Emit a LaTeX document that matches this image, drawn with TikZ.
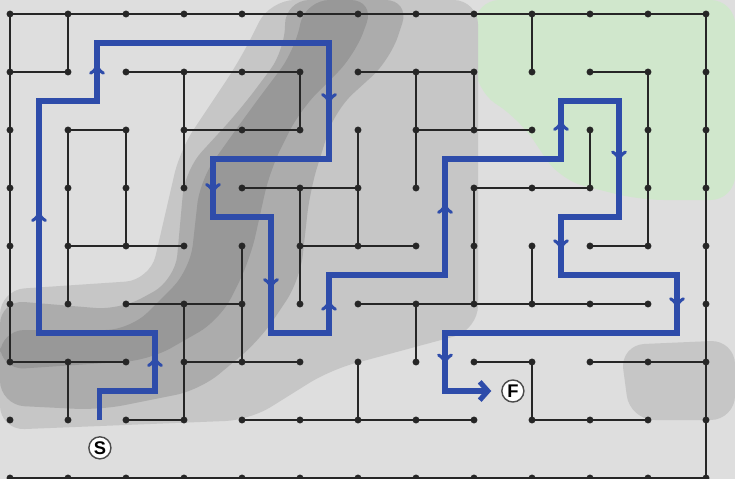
\documentclass[tikz,border=0pt]{standalone}
\usepackage{fontspec}
\setsansfont{Liberation Sans}
\usetikzlibrary{arrows.meta}

\definecolor{routeblue}{RGB}{46,76,170}
\definecolor{bglight}{RGB}{222,222,222}
\definecolor{bgmid}{RGB}{198,198,198}
\definecolor{bgdark}{RGB}{172,172,172}
\definecolor{bgcore}{RGB}{152,152,152}
\definecolor{bggreen}{RGB}{208,231,204}

\begin{document}
\begin{tikzpicture}[
        wall/.style={line width=1.1pt, black!85, line cap=round},
        route/.style={line width=2.5pt, routeblue},
        chevron/.style={line width=1.5pt, routeblue, line cap=round},
        endpt/.style={circle, draw=black!70, line width=0.7pt, fill=white,
                      minimum size=0.38cm, inner sep=0pt,
                      font=\sffamily\bfseries\fontsize{9}{9}\selectfont},
        chev/.pic={\draw[chevron] (-0.11,-0.09) .. controls (-0.05,-0.05) .. (0,0.03)
                   .. controls (0.05,-0.05) .. (0.11,-0.09);}
    ]
        \useasboundingbox (-0.1724,-8.0172) rectangle (12.5,0.2414);
        % background, in pixels of the picture
        \begin{scope}[shift={(-0.1724,0.2414)}, x=0.017241cm, y=-0.017241cm]
            \fill[bglight] (0,0) rectangle (735,479);
            \fill[bggreen, rounded corners=12pt] (475,0) -- (735,0) -- (735,200)
                -- (640,200) -- (560,180) -- (520,120) -- (475,90) -- cycle;
            \fill[bgmid, rounded corners=12pt] (270,0) -- (478,0) -- (478,330)
                -- (330,370) -- (250,420) -- (0,430) -- (0,290) -- (150,280)
                -- (180,150) -- (240,60) -- cycle;
            \fill[bgdark, rounded corners=12pt] (285,0) -- (410,0) -- (390,60)
                -- (335,110) -- (310,190) -- (300,280) -- (260,340) -- (200,390)
                -- (100,410) -- (0,405) -- (0,300) -- (120,310) -- (175,280)
                -- (185,170) -- (240,110) -- (285,50) -- cycle;
            \fill[bgcore, rounded corners=12pt] (305,0) -- (375,0) -- (355,55)
                -- (300,110) -- (270,170) -- (250,260) -- (220,320) -- (150,360)
                -- (0,370) -- (0,330) -- (130,330) -- (190,270) -- (200,180)
                -- (250,110) -- (295,50) -- cycle;
            \fill[bgmid, rounded corners=12pt] (620,345) -- (735,340) -- (735,420)
                -- (630,420) -- cycle;
        \end{scope}

        % maze walls
        \draw[wall] (0,-6) -- (0,0) -- (12,0) -- (12,-8);
        \draw[wall] (0,-8) -- (12,-8);
        \draw[wall] (1,0) -- (1,-1) -- (0,-1);
        \draw[wall] (2,-1) -- (5,-1) -- (5,-2) -- (3,-2);
        \draw[wall] (3,-1) -- (3,-3);
        \draw[wall] (2,-4) -- (2,-2) -- (1,-2) -- (1,-5);
        \draw[wall] (1,-4) -- (3,-4);
        \draw[wall] (6,-1) -- (8,-1) -- (8,-2);
        \draw[wall] (7,-1) -- (7,-3);
        \draw[wall] (7,-2) -- (9,-2);
        \draw[wall] (6,-2) -- (6,-4);
        \draw[wall] (4,-3) -- (6,-3);
        \draw[wall] (5,-3) -- (5,-5);
        \draw[wall] (5,-4) -- (7,-4);
        \draw[wall] (8,-5) -- (8,-3) -- (10,-3) -- (10,-2);
        \draw[wall] (9,0) -- (9,-1);
        \draw[wall] (10,-1) -- (11,-1) -- (11,-4) -- (10,-4);
        \draw[wall] (9,-4) -- (9,-5);
        \draw[wall] (6,-5) -- (11,-5);
        \draw[wall] (7,-5) -- (7,-6);
        \draw[wall] (4,-4) -- (4,-6);
        \draw[wall] (2,-5) -- (4,-5);
        \draw[wall] (3,-5) -- (3,-7) -- (2,-7);
        \draw[wall] (0,-6) -- (2,-6);
        \draw[wall] (1,-6) -- (1,-7);
        \draw[wall] (3,-6) -- (5,-6);
        \draw[wall] (4,-7) -- (8,-7);
        \draw[wall] (6,-6) -- (6,-7);
        \draw[wall] (8,-6) -- (9,-6) -- (9,-7) -- (11,-7);
        \draw[wall] (10,-6) -- (12,-6);
        \foreach \i in {0,...,12}
            \foreach \j in {0,...,8}
                \fill[black!85] (\i,-\j) circle (1.7pt);

        % start and finish
        \node[endpt] (S) at (1.55,-7.48) {S};
        \node[endpt] (F) at (8.67,-6.5)  {F};

        % the way through
        \draw[route, shorten <=0.27cm, shorten >=0.17cm,
              -{Straight Barb[length=4pt,width=9pt]}]
            (S) -- (1.55,-6.5) -- (2.5,-6.5) -- (2.5,-5.5) -- (0.5,-5.5)
            -- (0.5,-1.5) -- (1.5,-1.5) -- (1.5,-0.5) -- (5.5,-0.5) -- (5.5,-2.5)
            -- (3.5,-2.5) -- (3.5,-3.5) -- (4.5,-3.5) -- (4.5,-5.5) -- (5.5,-5.5)
            -- (5.5,-4.5) -- (7.5,-4.5) -- (7.5,-2.5) -- (9.5,-2.5) -- (9.5,-1.5)
            -- (10.5,-1.5) -- (10.5,-3.5) -- (9.5,-3.5) -- (9.5,-4.5) -- (11.5,-4.5)
            -- (11.5,-5.5) -- (7.5,-5.5) -- (7.5,-6.5) -- (F);
        \foreach \x/\y in {2.5/-5.97, 0.5/-3.47, 1.5/-0.93, 5.5/-5.0, 7.5/-3.33, 9.5/-1.9}
            \pic at (\x,\y) {chev};
        \foreach \x/\y in {5.5/-1.48, 3.5/-3.03, 4.5/-4.67, 10.5/-2.47, 9.5/-4.0,
                           11.5/-5.0, 7.5/-5.97}
            \pic[rotate=180] at (\x,\y) {chev};
    \end{tikzpicture}
\end{document}
